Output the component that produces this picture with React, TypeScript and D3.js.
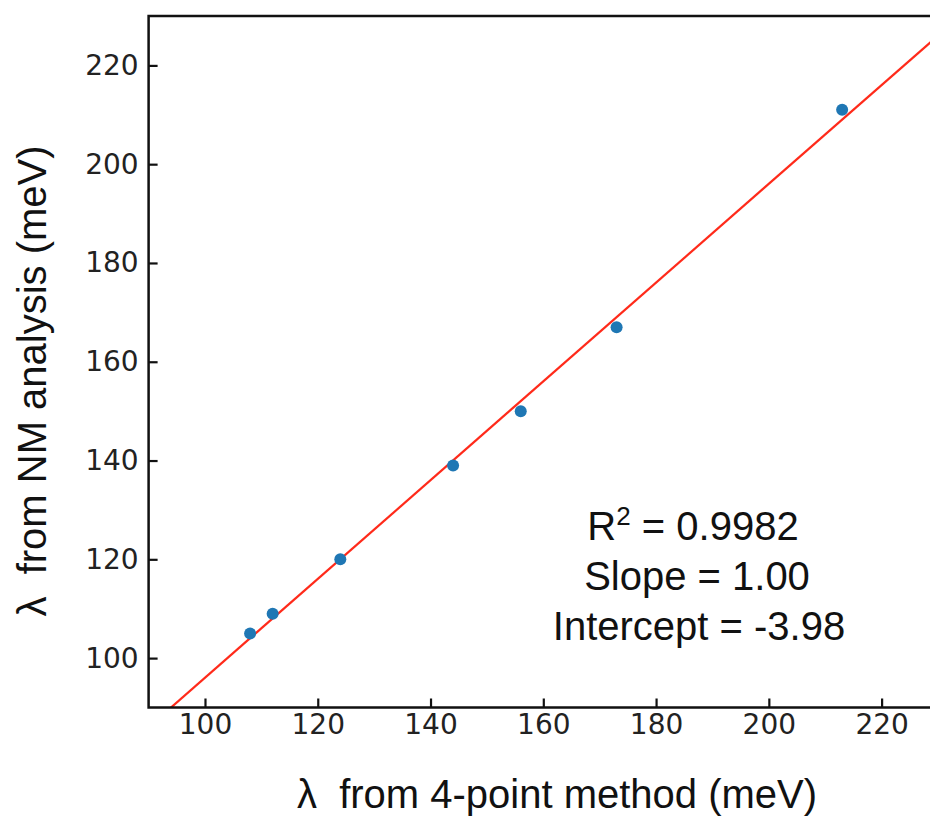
import React, { useRef, useEffect } from "react";
import * as d3 from "d3";

// points
const fourPoint = [108, 112, 124, 144, 156, 173, 213];
const nmValues = [105, 109, 120, 139, 150, 167, 211];
const xTicks = [100, 120, 140, 160, 180, 200, 220];
const yTicks = [100, 120, 140, 160, 180, 200, 220];
const fitSlope = 1.0;
const fitIntercept = -3.98;
const statLines = ["0.9982", "Slope = 1.00", "Intercept = -3.98"];

export default function App() {
  const svgRef = useRef<SVGSVGElement>(null);

  useEffect(() => {
    const svg = d3.select(svgRef.current);
    svg.selectAll("*").remove();

    const left = 148.6, right = 938, top = 16, bottom = 707.5;
    const x = d3.scaleLinear().domain([90, 230]).range([left, right]);
    const y = d3.scaleLinear().domain([90, 230]).range([bottom, top]);

    const g = svg.append("g");

    // fit line clipped to the axes box
    svg.append("defs").append("clipPath").attr("id", "box")
      .append("rect").attr("x", left).attr("y", top)
      .attr("width", right - left).attr("height", bottom - top);

    const line = d3.line<number>()
      .x((d) => x(d))
      .y((d) => y(fitSlope * d + fitIntercept));
    g.append("path")
      .datum([85, 235])
      .attr("clip-path", "url(#box)")
      .attr("fill", "none")
      .attr("stroke", "#ff2a1a")
      .attr("stroke-width", 2.2)
      .attr("d", line);

    g.selectAll(".dot")
      .data(fourPoint)
      .enter()
      .append("circle")
      .attr("cx", (d) => x(d))
      .attr("cy", (d, i) => y(nmValues[i]))
      .attr("r", 6)
      .attr("fill", "#1f77b4");

    // axes, ticks inward
    const xAxis = g.append("g")
      .attr("transform", `translate(0,${bottom})`)
      .call(d3.axisBottom(x).tickValues(xTicks).tickSizeInner(-9).tickSizeOuter(0).tickPadding(7));
    const yAxis = g.append("g")
      .attr("transform", `translate(${left},0)`)
      .call(d3.axisLeft(y).tickValues(yTicks).tickSizeInner(-9).tickSizeOuter(0).tickPadding(10));

    [xAxis, yAxis].forEach((a) => {
      a.select(".domain").remove();
      a.selectAll("line").attr("stroke", "#111").attr("stroke-width", 2.2);
      a.selectAll("text")
        .attr("fill", "#222")
        .style("font-family", "DejaVu Sans")
        .style("font-size", "28px");
    });

    g.append("rect")
      .attr("x", left).attr("y", top)
      .attr("width", right - left).attr("height", bottom - top)
      .attr("fill", "none")
      .attr("stroke", "#111")
      .attr("stroke-width", 2.5);

    const labelFont = "Liberation Sans, Arial, sans-serif";

    g.append("text")
      .attr("x", 557).attr("y", 808)
      .attr("text-anchor", "middle")
      .style("font-family", labelFont)
      .style("font-size", "40px")
      .style("white-space", "pre")
      .attr("fill", "#111")
      .text("λ  from 4-point method (meV)");

    g.append("text")
      .attr("transform", "translate(46,381) rotate(-90)")
      .attr("text-anchor", "middle")
      .style("font-family", labelFont)
      .style("font-size", "40px")
      .style("white-space", "pre")
      .attr("fill", "#111")
      .text("λ  from NM analysis (meV)");

    const stats = g.append("g")
      .style("font-family", labelFont)
      .style("font-size", "40px")
      .attr("fill", "#111")
      .attr("text-anchor", "middle");

    const r2 = stats.append("text").attr("x", 693).attr("y", 540);
    r2.append("tspan").text("R");
    r2.append("tspan").attr("dy", -15).style("font-size", "26px").text("2");
    r2.append("tspan").attr("dy", 15).text(" = " + statLines[0]);

    stats.append("text").attr("x", 697).attr("y", 590).text(statLines[1]);
    stats.append("text").attr("x", 699).attr("y", 640).text(statLines[2]);
  }, []);

  return (
    <svg
      ref={svgRef}
      width={930}
      height={821}
      style={{ position: "absolute", left: 0, top: 0, background: "#fff" }}
    />
  );
}
